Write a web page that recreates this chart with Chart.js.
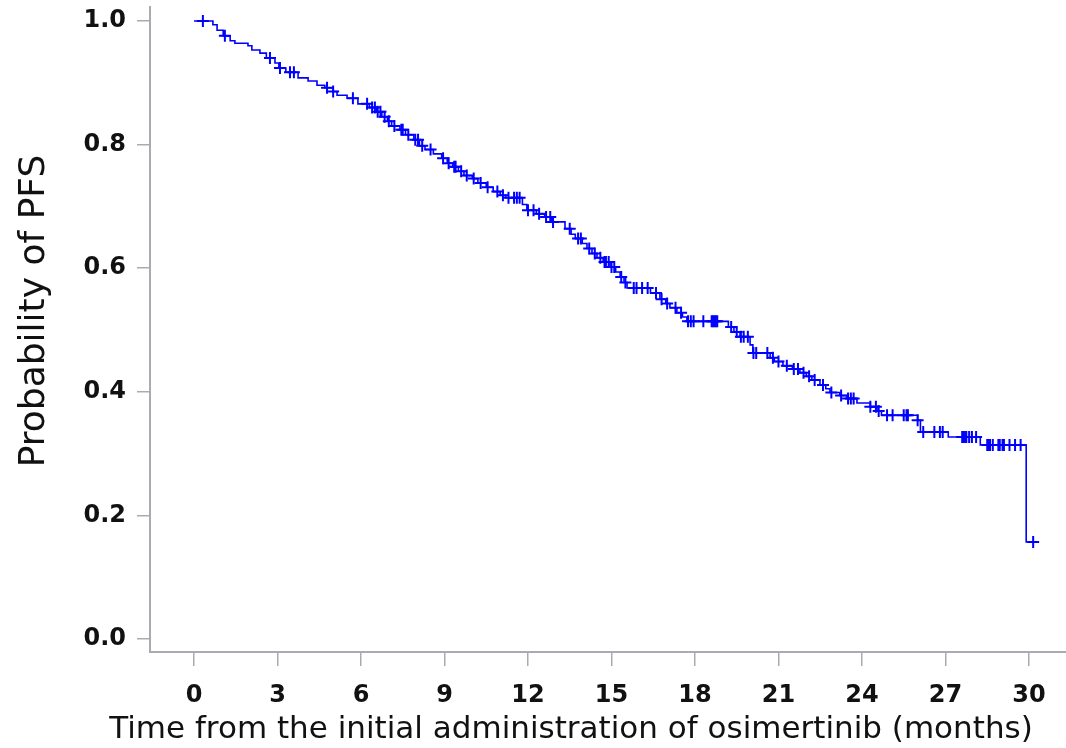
<!DOCTYPE html>
<html>
<head>
<meta charset="utf-8">
<title>PFS - Kaplan-Meier</title>
<script src="https://cdn.jsdelivr.net/npm/chart.js"></script>
<style>
  body { margin: 0; background: #fff; }
  #wrap { width: 1066px; height: 748px; }
</style>
</head>
<body>
<div id="wrap"><canvas id="km" width="1066" height="748"></canvas></div>
<script>
// Kaplan-Meier steps: time (months) where the curve drops, and the new level
const stepTimes = [0, 0.68, 0.83, 1.05, 1.30, 1.47, 1.94, 2.08, 2.37, 2.60, 2.91, 3.05, 3.30, 3.74, 4.10, 4.42, 4.70, 5.00, 5.14, 5.50, 5.89,
  6.30, 6.55, 6.75, 6.95, 7.10, 7.40, 7.60, 7.90, 8.10, 8.30, 8.60, 8.90, 9.10, 9.30, 9.50, 9.70, 10.00, 10.20, 10.50, 10.75,
  11.00, 11.20, 11.80, 11.96, 12.30, 12.60, 12.85, 13.33, 13.55, 13.70, 13.95, 14.12, 14.30, 14.48, 14.70, 14.95, 15.15, 15.31,
  15.45, 15.56, 16.40, 16.74, 16.95, 17.10, 17.35, 17.55, 17.71, 19.20, 19.40, 19.62, 19.98, 20.08, 20.70, 20.85, 21.16, 21.50,
  21.77, 22.00, 22.20, 22.49, 22.70, 22.85, 23.20, 23.46, 23.82, 24.30, 24.54, 24.70, 26.00, 26.10, 27.10, 28.25, 29.90, 30.15];
const stepSurv = [1.000, 0.994, 0.985, 0.976, 0.968, 0.964, 0.960, 0.953, 0.948, 0.940, 0.932, 0.924, 0.917, 0.908, 0.903, 0.896, 0.892, 0.886, 0.880, 0.875, 0.866,
  0.860, 0.853, 0.845, 0.838, 0.830, 0.824, 0.816, 0.808, 0.798, 0.792, 0.785, 0.778, 0.770, 0.764, 0.757, 0.750, 0.745, 0.738, 0.731, 0.724,
  0.718, 0.714, 0.703, 0.694, 0.688, 0.683, 0.675, 0.664, 0.655, 0.648, 0.640, 0.632, 0.624, 0.617, 0.610, 0.602, 0.594, 0.586,
  0.577, 0.568, 0.560, 0.550, 0.543, 0.536, 0.528, 0.521, 0.514, 0.505, 0.497, 0.489, 0.476, 0.463, 0.455, 0.449, 0.442, 0.437,
  0.431, 0.425, 0.419, 0.411, 0.405, 0.399, 0.394, 0.389, 0.382, 0.376, 0.369, 0.362, 0.354, 0.335, 0.327, 0.314, 0.157, 0.157];

// censored observations (months)
const censorTimes = [0.32, 1.11, 2.73, 3.09, 3.45, 3.59, 4.78, 5.00, 5.71, 6.22, 6.40, 6.50, 6.60, 6.70, 6.85, 7.00, 7.20, 7.45, 7.50,
  7.70, 7.95, 8.05, 8.20, 8.50, 8.95, 9.15, 9.35, 9.40, 9.60, 9.80, 10.05, 10.30, 10.55, 10.90, 11.10, 11.30, 11.50, 11.60, 11.70,
  12.00, 12.20, 12.40, 12.65, 12.80, 12.90, 13.50, 13.80, 13.90, 14.20, 14.40, 14.60, 14.75, 14.80, 14.90, 15.00, 15.10, 15.35,
  15.50, 15.80, 15.90, 16.10, 16.30, 16.60, 16.80, 17.00, 17.30, 17.50, 17.75, 17.85, 17.95, 18.30, 18.60, 18.65, 18.70, 18.75,
  18.80, 19.30, 19.50, 19.65, 19.75, 19.90, 20.10, 20.20, 20.60, 20.80, 21.00, 21.30, 21.55, 21.70, 21.90, 22.10, 22.30, 22.60,
  22.90, 23.25, 23.50, 23.60, 23.70, 24.30, 24.50, 24.60, 24.90, 25.10, 25.50, 25.60, 25.65, 26.00, 26.20, 26.60, 26.80, 26.90,
  27.60, 27.65, 27.70, 27.75, 27.85, 27.95, 28.10, 28.50, 28.55, 28.60, 28.70, 28.90, 28.95, 29.05, 29.10, 29.30, 29.50, 29.70, 30.15];

const xTicks = [0, 3, 6, 9, 12, 15, 18, 21, 24, 27, 30];
const yTicks = [0, 0.2, 0.4, 0.6, 0.8, 1.0];

const xTitle = 'Time from the initial administration of osimertinib (months)';
const yTitle = 'Probability of PFS';

const axisGrey = '#a8acb0';
const curveBlue = '#0000ff';

// level of the curve at time t
function survivalAt(t) {
  let s = 1;
  for (let i = 0; i < stepTimes.length; i++) {
    if (stepTimes[i] <= t) s = stepSurv[i];
  }
  return s;
}

const curvePoints = stepTimes.map((t, i) => ({ x: t, y: stepSurv[i] }));
const censorPoints = censorTimes.map(t => ({ x: t, y: survivalAt(t) }));

// axis titles are not centered on the axes in the original, draw them by hand
const axisTitlePlugin = {
  id: 'axisTitles',
  afterDraw(chart) {
    const ctx = chart.ctx;
    ctx.save();
    ctx.fillStyle = '#111';
    ctx.textAlign = 'center';

    ctx.font = '31px "DejaVu Sans"';
    ctx.textBaseline = 'alphabetic';
    ctx.fillText(xTitle, 571, 738);

    ctx.font = '36px "DejaVu Sans"';
    ctx.textBaseline = 'middle';
    ctx.translate(35, 311);
    ctx.rotate(-Math.PI / 2);
    ctx.fillText(yTitle, 0, 0);
    ctx.restore();
  }
};

const tickFont = { family: 'DejaVu Sans', weight: 'bold', size: 24 };

new Chart(document.getElementById('km'), {
  type: 'line',
  data: {
    datasets: [
      {
        data: curvePoints,
        stepped: true,
        borderColor: curveBlue,
        borderWidth: 1.6,
        pointRadius: 0,
        fill: false
      },
      {
        type: 'scatter',
        data: censorPoints,
        showLine: false,
        pointStyle: 'cross',
        pointRadius: 6,
        borderColor: curveBlue,
        borderWidth: 2
      }
    ]
  },
  options: {
    responsive: false,
    animation: false,
    layout: { autoPadding: false, padding: { top: 7, right: 0, bottom: 0, left: 0 } },
    plugins: {
      legend: { display: false },
      tooltip: { enabled: false }
    },
    scales: {
      x: {
        type: 'linear',
        min: -1.58,
        max: 31.33,
        afterBuildTicks: s => { s.ticks = xTicks.map(v => ({ value: v })); },
        afterFit: s => { s.height = 96; s.paddingLeft = 0; s.paddingRight = 0; },
        grid: { drawOnChartArea: false, tickLength: 14, color: axisGrey, lineWidth: 1.5 },
        border: { color: axisGrey, width: 2 },
        ticks: { font: tickFont, color: '#111', padding: 15, maxRotation: 0 }
      },
      y: {
        min: -0.021,
        max: 1.0227,
        afterBuildTicks: s => { s.ticks = yTicks.map(v => ({ value: v })); },
        afterFit: s => { s.width = 150; s.paddingTop = 0; s.paddingBottom = 0; },
        grid: { drawOnChartArea: false, tickLength: 13, color: axisGrey, lineWidth: 1.5 },
        border: { color: axisGrey, width: 2 },
        ticks: { font: tickFont, color: '#111', padding: 11, callback: v => v.toFixed(1) }
      }
    }
  },
  plugins: [axisTitlePlugin]
});
</script>
</body>
</html>
